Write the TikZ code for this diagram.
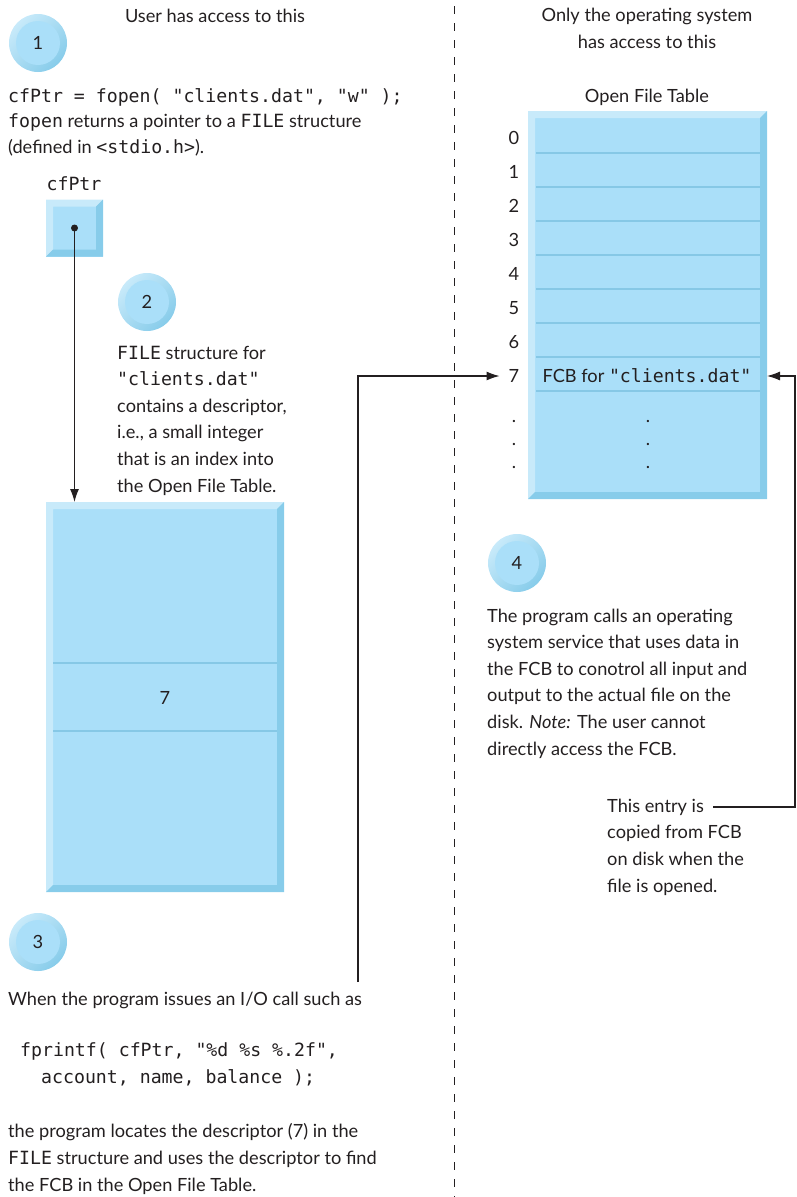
\documentclass[tikz,border=0pt]{standalone}
\usepackage{fontspec}
\setmainfont{Lato}
\newfontfamily\codefont{DejaVu Sans Mono}
\usetikzlibrary{arrows.meta,positioning}

% 颜色
\definecolor{ink}{HTML}{231F20}
\definecolor{boxfill}{HTML}{AADFF9}
\definecolor{bevellight}{HTML}{C8EAFA}
\definecolor{beveldark}{HTML}{87CCEA}
\definecolor{rowcolor}{HTML}{86C8E6}

\newcommand{\bodyfont}{\fontsize{18.2}{26.6}\selectfont}
\newcommand{\cd}[1]{{\codefont #1}}
\newcommand{\bev}{7}
% 立体边框：左上浅色，右下深色
\newcommand{\bevelsides}[1]{%
    \fill[bevellight] (#1.north west) -- (#1.north east) -- ([shift={(-\bev,-\bev)}]#1.north east)
        -- ([shift={(\bev,-\bev)}]#1.north west) -- ([shift={(\bev,\bev)}]#1.south west) -- (#1.south west) -- cycle;
    \fill[beveldark] (#1.north east) -- (#1.south east) -- (#1.south west) -- ([shift={(\bev,\bev)}]#1.south west)
        -- ([shift={(-\bev,\bev)}]#1.south east) -- ([shift={(-\bev,-\bev)}]#1.north east) -- cycle;
}

\tikzset{
    % 多行文本：base 锚点在最后一行
    txt/.style={anchor=base west, inner sep=0pt, align=left, font=\bodyfont, text=ink},
    heading/.style={anchor=base, inner sep=0pt, align=center, font=\bodyfont, text=ink},
    numlabel/.style={inner xsep=9pt, inner ysep=0pt, font=\bodyfont, text=ink},
    dotlabel/.style={anchor=base, inner sep=0pt, font=\bodyfont, text=ink},
    bevelnode/.style={rectangle, fill=boxfill, inner sep=0pt, outer sep=0pt},
    rowline/.style={rowcolor, line width=2pt},
    stepdisc/.style={circle, minimum size=58pt, inner sep=0pt, font=\bodyfont, text=ink,
        top color=bevellight, bottom color=beveldark, shading angle=45,
        path picture={\fill[boxfill] (path picture bounding box.center) circle (22pt);}},
    ptrdot/.style={circle, fill=ink, minimum size=7pt, inner sep=0pt},
    ptrarrow/.style={-{Latex[length=13pt,width=9pt]}, line width=1.1pt, draw=ink},
    divider/.style={ink, line width=1pt, dash pattern=on 8pt off 9pt},
}

\begin{document}
\begin{tikzpicture}[x=1pt, y=1pt]
    \useasboundingbox (0,0) rectangle (796,-1197);

    % --- 分隔线和标题 ---
    \draw[divider] (454,-6) -- (454,-1197);
    \node[heading] (userhead) at (215,-22) {User has access to this};
    \node[heading] (oshead) at (647,-48) {Only the operating system\\has access to this};

    % --- 步骤圆圈 ---
    \node[stepdisc] (s1) at (38,-43) {1};
    \node[stepdisc] (s2) at (147,-302) {2};
    \node[stepdisc] (s3) at (38,-942) {3};
    \node[stepdisc] (s4) at (517,-563) {4};

    % --- 左侧：fopen 和 cfPtr ---
    \node[txt, font=\fontsize{18.2}{25.5}\selectfont] (opennote) at (8,-153) {\cd{cfPtr = fopen( "clients.dat", "w" );}\\
        \cd{fopen} returns a pointer to a \cd{FILE} structure\\(defined in \cd{<stdio.h>}).};
    \node[heading] (ptrname) at (74,-190) {\cd{cfPtr}};
    \node[bevelnode, minimum size=57pt] (ptrbox) at (74.5,-228) {};
    \bevelsides{ptrbox}
    \node[ptrdot] (dot) at (ptrbox.center) {};

    % --- FILE 结构 ---
    \node[bevelnode, minimum width=238pt, minimum height=390pt] (filebox) at (165,-697) {};
    \bevelsides{filebox}
    \foreach \y in {663,731}
        \draw[rowline] (53,-\y) -- (277,-\y);
    \node[font=\bodyfont, text=ink] (slot7) at (165,-698) {7};
    \draw[ptrarrow] (dot.center) -- (dot |- filebox.north);

    \node[txt] (filenote) at (117,-492) {\cd{FILE} structure for\\\cd{"clients.dat"}\\contains a descriptor,\\
        i.e., a small integer\\that is an index into\\the Open File Table.};

    % --- 步骤 3 ---
    \node[txt] (callnote) at (8,-1005) {When the program issues an I/O call such as};
    \node[txt, font=\bodyfont\codefont] (callcode) at (20,-1083) {fprintf( cfPtr, "\%d \%s \%.2f",\\
        \hspace*{21pt}account, name, balance );};
    \node[txt] (locatenote) at (8,-1191) {the program locates the descriptor (7) in the\\
        \cd{FILE} structure and uses the descriptor to find\\the FCB in the Open File Table.};

    % --- 打开文件表 ---
    \node[heading] (tabletitle) at (647,-102) {Open File Table};
    \node[bevelnode, minimum width=239pt, minimum height=388pt] (table) at (647.5,-305) {};
    \bevelsides{table}
    \foreach \k in {0,...,7}
        \draw[rowline] (536,{-153-34*\k}) -- (760,{-153-34*\k});
    \foreach \i in {0,...,7}
        \node[numlabel] (n\i) at (514,{-138-34*\i}) {\i};
    \node[font=\bodyfont, text=ink] (fcb7) at (647,-376) {FCB for \cd{"clients.dat"}};
    \foreach \y [count=\j] in {422,445,468} {
        \node[dotlabel] (ld\j) at (514,-\y) {.};
        \node[dotlabel] (rd\j) at (648,-\y) {.};
    }

    % 描述符 7 指向 FCB
    \coordinate (callend) at (358,-982);
    \draw[ptrarrow] (callend) |- (n7.west);

    % --- 步骤 4 ---
    \node[txt] (osnote) at (487,-755) {The program calls an operating\\system service that uses data in\\
        the FCB to conotrol all input and\\output to the actual file on the\\
        disk. \textit{Note:} The user cannot\\directly access the FCB.};
    \node[txt] (copynote) at (607,-892) {This entry is\\copied from FCB\\on disk when the\\file is opened.};
    \coordinate (copyend) at (713,-807);
    \draw[ptrarrow] (copyend) -- ++(82,0) |- (fcb7 -| table.east);

\end{tikzpicture}
\end{document}
